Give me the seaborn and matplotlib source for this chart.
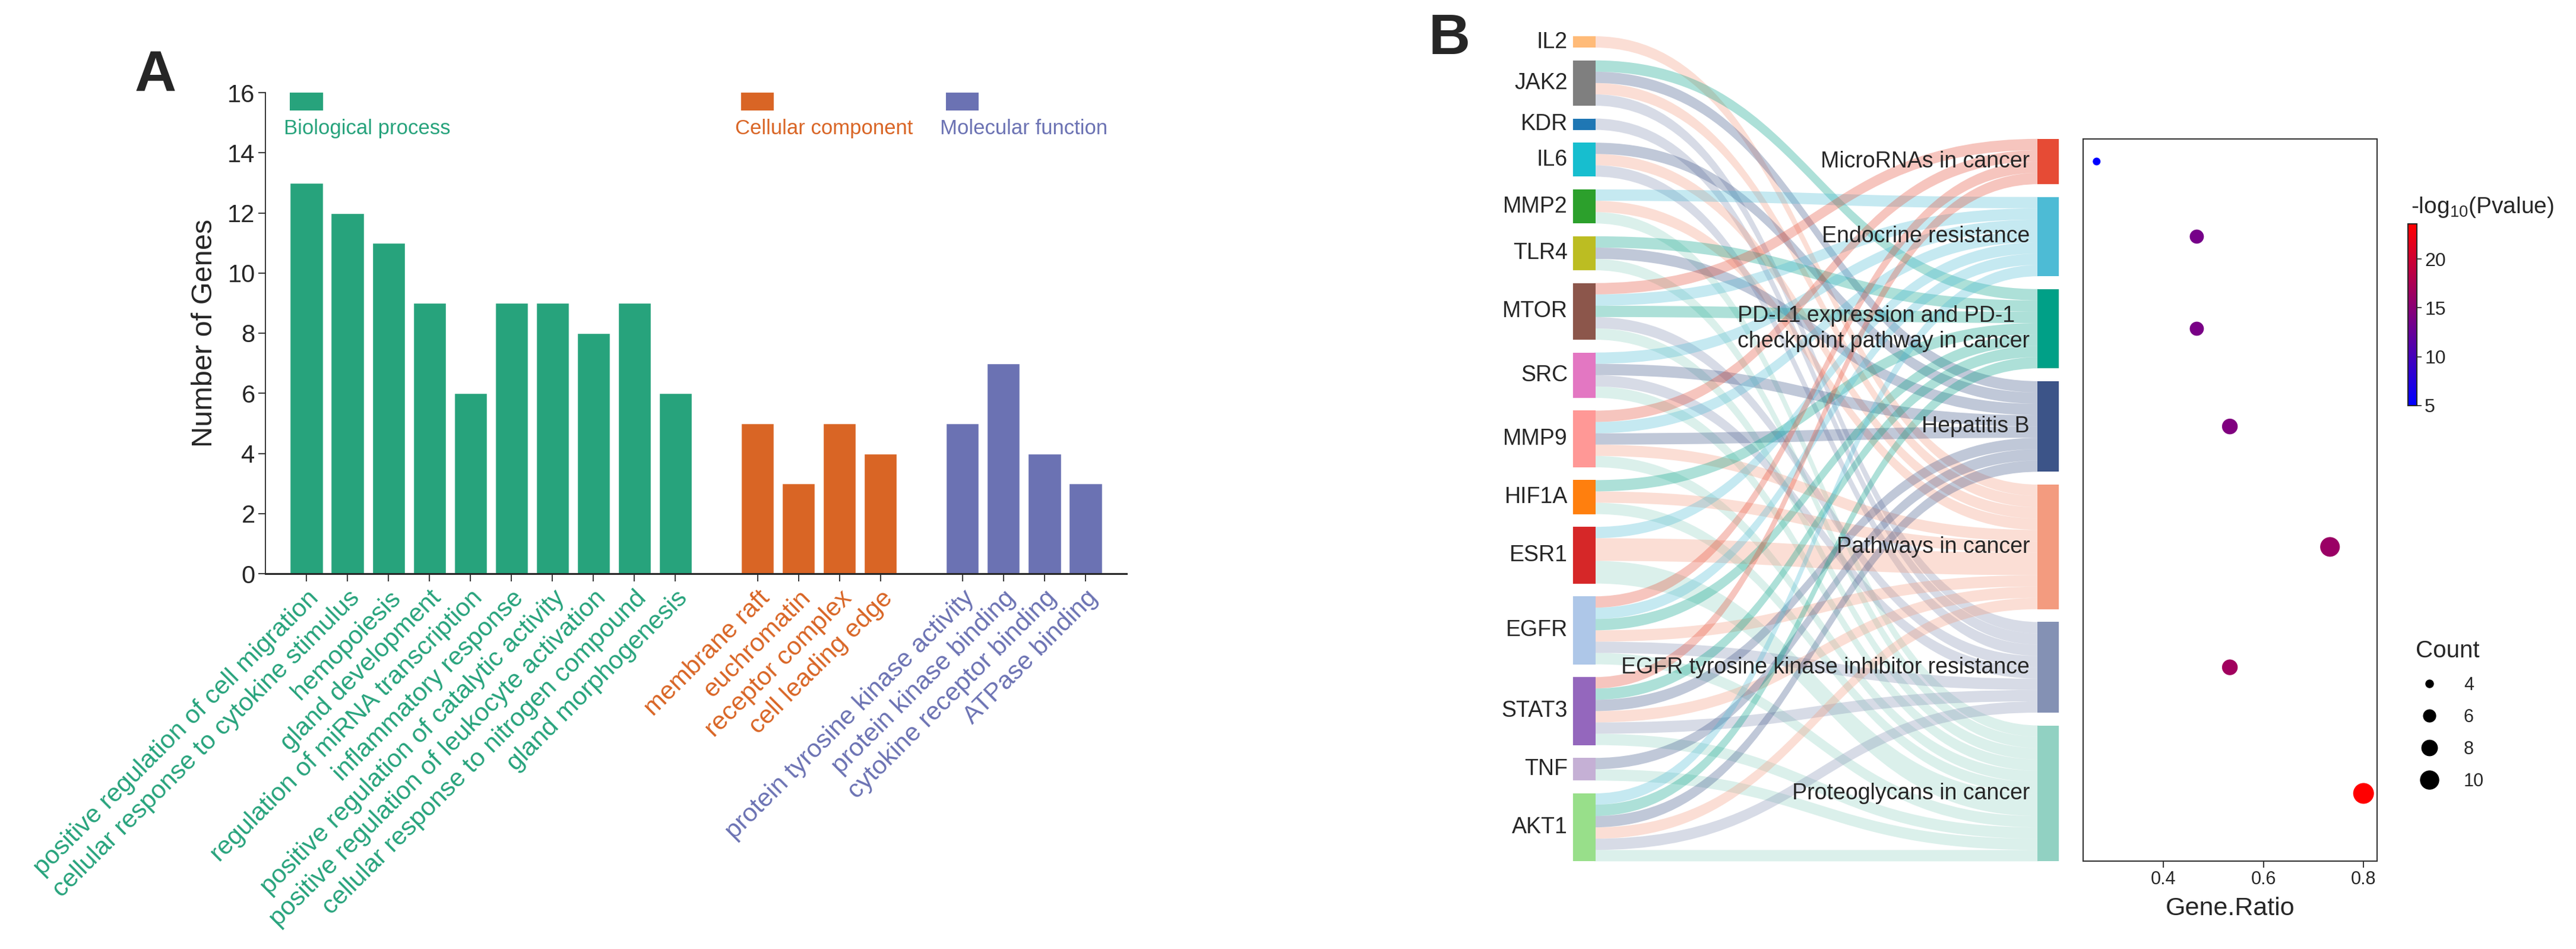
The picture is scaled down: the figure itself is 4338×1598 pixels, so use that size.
import numpy as np
import pandas as pd
import matplotlib
matplotlib.use('Agg')
import matplotlib.pyplot as plt
import seaborn as sns
from matplotlib.path import Path
from matplotlib.patches import PathPatch, Rectangle
from matplotlib.colors import LinearSegmentedColormap, Normalize
from matplotlib.cm import ScalarMappable
from matplotlib.lines import Line2D

# ---------------- panel A: GO enrichment counts ----------------
go_groups = ['Biological process', 'Cellular component', 'Molecular function']
go_colors = ['#27A37C', '#D96525', '#6B72B3']
bp_terms = ['positive regulation of cell migration', 'cellular response to cytokine stimulus',
            'hemopoiesis', 'gland development', 'regulation of miRNA transcription',
            'inflammatory response', 'positive regulation of catalytic activity',
            'positive regulation of leukocyte activation', 'cellular response to nitrogen compound',
            'gland morphogenesis']
bp_counts = [13, 12, 11, 9, 6, 9, 9, 8, 9, 6]
cc_terms = ['membrane raft', 'euchromatin', 'receptor complex', 'cell leading edge']
cc_counts = [5, 3, 5, 4]
mf_terms = ['protein tyrosine kinase activity', 'protein kinase binding',
            'cytokine receptor binding', 'ATPase binding']
mf_counts = [5, 7, 4, 3]

# ---------------- panel B: gene -> KEGG pathway sankey ----------------
genes = ['IL2', 'JAK2', 'KDR', 'IL6', 'MMP2', 'TLR4', 'MTOR', 'SRC', 'MMP9',
         'HIF1A', 'ESR1', 'EGFR', 'STAT3', 'TNF', 'AKT1']
gene_colors = ['#FFBB78', '#7F7F7F', '#1F77B4', '#17BECF', '#2CA02C', '#BCBD22', '#8C564B',
               '#E377C2', '#FF9896', '#FF7F0E', '#D62728', '#AEC7E8', '#9467BD', '#C5B0D5', '#98DF8A']
pathways = ['MicroRNAs in cancer', 'Endocrine resistance',
            'PD-L1 expression and PD-1\ncheckpoint pathway in cancer', 'Hepatitis B',
            'Pathways in cancer', 'EGFR tyrosine kinase inhibitor resistance',
            'Proteoglycans in cancer']
pathway_colors = ['#E64B35', '#4DBBD5', '#00A087', '#3C5488', '#F39B7F', '#8491B4', '#91D1C2']

link_source = ['IL2',
               'JAK2', 'JAK2', 'JAK2', 'JAK2',
               'KDR',
               'IL6', 'IL6', 'IL6',
               'MMP2', 'MMP2', 'MMP2',
               'TLR4', 'TLR4', 'TLR4',
               'MTOR', 'MTOR', 'MTOR', 'MTOR', 'MTOR',
               'SRC', 'SRC', 'SRC', 'SRC',
               'MMP9', 'MMP9', 'MMP9', 'MMP9', 'MMP9',
               'HIF1A', 'HIF1A', 'HIF1A',
               'ESR1', 'ESR1', 'ESR1',
               'EGFR', 'EGFR', 'EGFR', 'EGFR', 'EGFR', 'EGFR',
               'STAT3', 'STAT3', 'STAT3', 'STAT3', 'STAT3', 'STAT3',
               'TNF', 'TNF',
               'AKT1', 'AKT1', 'AKT1', 'AKT1', 'AKT1', 'AKT1']
link_target = [4,
               2, 3, 4, 5,
               5,
               3, 4, 5,
               1, 4, 6,
               2, 3, 6,
               0, 1, 2, 5, 6,
               1, 3, 5, 6,
               0, 1, 3, 4, 6,
               2, 4, 6,
               1, 4, 6,
               0, 1, 2, 4, 5, 6,
               0, 2, 3, 4, 5, 6,
               3, 6,
               1, 2, 3, 4, 5, 6]
link_weight = [1,
               1, 1, 1, 1,
               1,
               1, 1, 1,
               1, 1, 1,
               1, 1, 1,
               1, 1, 1, 1, 1,
               1, 1, 1, 1,
               1, 1, 1, 1, 1,
               1, 1, 1,
               1, 2, 2,
               1, 1, 1, 1, 1, 1,
               1, 1, 1, 1, 1, 1,
               1, 1,
               1, 1, 1, 1, 1, 1]

# ---------------- panel B: dot plot ----------------
pathway_count = [4, 7, 7, 8, 11, 8, 12]
gene_ratio = [0.267, 0.467, 0.467, 0.533, 0.733, 0.533, 0.800]
neg_log10_p = [5.0, 13.6, 13.8, 14.3, 16.2, 16.7, 23.6]

sns.set_style('white')
plt.rcParams['font.family'] = ['Liberation Sans', 'DejaVu Sans']
plt.rcParams['mathtext.fontset'] = 'custom'
plt.rcParams['mathtext.rm'] = 'Liberation Sans'
plt.rcParams['mathtext.default'] = 'regular'

W, H = 4338, 1598
fig = plt.figure(figsize=(W / 100, H / 100), dpi=100)

# ================= panel A =================
rows = []
pos = 0
first_pos = []
for grp, terms, counts in zip(go_groups, [bp_terms, cc_terms, mf_terms], [bp_counts, cc_counts, mf_counts]):
    first_pos.append(pos)
    for t, c in zip(terms, counts):
        rows.append({'term': t, 'count': c, 'group': grp, 'pos': pos})
        pos += 1
    pos += 1  # empty slot between groups
df_go = pd.DataFrame(rows)

axA = fig.add_axes([447 / W, (H - 966) / H, 1450 / W, 810 / H])
sns.barplot(data=df_go, x='pos', y='count', hue='group', palette=dict(zip(go_groups, go_colors)),
            native_scale=True, width=0.8, dodge=False, saturation=1, legend=False, ax=axA)
axA.set_xlim(-1, 20)
axA.set_ylim(0, 16)
axA.set_yticks(range(0, 17, 2))
axA.set_xticks(df_go['pos'])
axA.set_xticklabels(df_go['term'], rotation=45, ha='right', va='top', rotation_mode='anchor')
col_map = dict(zip(go_groups, go_colors))
for lab, grp in zip(axA.get_xticklabels(), df_go['group']):
    lab.set_color(col_map[grp])
axA.tick_params(axis='x', labelsize=31, length=9, width=1.3, direction='out', pad=6, bottom=True)
axA.tick_params(axis='y', labelsize=30, length=9, width=1.3, direction='out', left=True)
axA.set_xlabel('')
axA.set_ylabel('Number of Genes', fontsize=35, labelpad=12)
sns.despine(ax=axA)
axA.spines['left'].set_linewidth(1.3)
axA.spines['bottom'].set_linewidth(2.2)

for p0, grp, colr in zip(first_pos, go_groups, go_colors):
    axA.add_patch(Rectangle((p0 - 0.4, 15.4), 0.8, 0.6, color=colr, lw=0, clip_on=False))
    axA.text(p0 - 0.55, 14.8, grp, color=colr, fontsize=25, ha='left', va='center')

fig.text(227 / W, 1 - 153 / H, 'A', fontsize=70, fontweight='bold', ha='left', va='baseline')
fig.text(2405 / W, 1 - 91 / H, 'B', fontsize=70, fontweight='bold', ha='left', va='baseline')

# ================= panel B: sankey =================
axS = fig.add_axes([0, 0, 1, 1])
axS.set_xlim(0, W)
axS.set_ylim(H, 0)
axS.axis('off')

unit, gap = 19.07, 21.6
left_x0, left_x1 = 2649, 2687
right_x0, right_x1 = 3431, 3467
left_top = 61

gene_w = {g: 0 for g in genes}
path_w = [0] * len(pathways)
for s, t, w in zip(link_source, link_target, link_weight):
    gene_w[s] += w
    path_w[t] += w
total = sum(path_w)
left_total = total * unit + (len(genes) - 1) * gap
right_total = total * unit + (len(pathways) - 1) * gap
right_top = left_top + left_total - right_total

gene_y = {}
y = left_top
for g in genes:
    gene_y[g] = y
    y += gene_w[g] * unit + gap
path_y = []
y = right_top
for k in range(len(pathways)):
    path_y.append(y)
    y += path_w[k] * unit + gap

g_off = {g: gene_y[g] for g in genes}
p_off = list(path_y)
xm = (left_x1 + right_x0) / 2
for s, t, w in zip(link_source, link_target, link_weight):
    h = w * unit
    ys0, yt0 = g_off[s], p_off[t]
    verts = [(left_x1 - 2, ys0), (xm, ys0), (xm, yt0), (right_x0 + 2, yt0),
             (right_x0 + 2, yt0 + h), (xm, yt0 + h), (xm, ys0 + h), (left_x1 - 2, ys0 + h),
             (left_x1 - 2, ys0)]
    codes = [Path.MOVETO, Path.CURVE4, Path.CURVE4, Path.CURVE4,
             Path.LINETO, Path.CURVE4, Path.CURVE4, Path.CURVE4, Path.CLOSEPOLY]
    axS.add_patch(PathPatch(Path(verts, codes), facecolor=pathway_colors[t], alpha=0.32, lw=0))
    g_off[s] += h
    p_off[t] += h

for g, c in zip(genes, gene_colors):
    axS.add_patch(Rectangle((left_x0, gene_y[g]), left_x1 - left_x0, gene_w[g] * unit, color=c, lw=0))
    axS.text(left_x0 - 9, gene_y[g] + gene_w[g] * unit / 2, g, fontsize=27, ha='right', va='center')
for k, (name, c) in enumerate(zip(pathways, pathway_colors)):
    axS.add_patch(Rectangle((right_x0, path_y[k]), right_x1 - right_x0, path_w[k] * unit, color=c, lw=0))
    axS.text(right_x0 - 13, path_y[k] + path_w[k] * unit / 2, name, fontsize=27,
             ha='right', va='center', multialignment='left', linespacing=1.25)

# ================= panel B: dot plot =================
centers = [path_y[k] + path_w[k] * unit / 2 for k in range(len(pathways))]
df_dot = pd.DataFrame({'pathway': pathways, 'ratio': gene_ratio, 'count': pathway_count,
                       'logp': neg_log10_p, 'ypos': centers})
bot = path_y[-1] + path_w[-1] * unit
axD = fig.add_axes([3508 / W, (H - bot) / H, 495 / W, (bot - right_top) / H])
cmap = LinearSegmentedColormap.from_list('br', ['#0000FF', '#FF0000'])
vmin, vmax = min(neg_log10_p), max(neg_log10_p)
s_min, s_max = 88, 635
sns.scatterplot(data=df_dot, x='ratio', y='ypos', hue='logp', size='count', palette=cmap,
                hue_norm=(vmin, vmax), sizes=(s_min, s_max), size_norm=(4, 12),
                linewidth=0, legend=False, ax=axD)
axD.set_ylim(bot, right_top)
axD.set_xlim(0.24, 0.827)
axD.set_yticks([])
axD.set_xticks([0.4, 0.6, 0.8])
axD.set_xticklabels(['0.4', '0.6', '0.8'])
axD.tick_params(axis='x', labelsize=22, length=8, width=1.3, direction='out', bottom=True)
axD.set_xlabel('Gene.Ratio', fontsize=31, labelpad=10)
axD.set_ylabel('')
for sp in axD.spines.values():
    sp.set_visible(True)
    sp.set_linewidth(1.5)
    sp.set_color('#333333')

cax = fig.add_axes([4055 / W, (H - 683) / H, 15 / W, 306 / H])
cb = fig.colorbar(ScalarMappable(norm=Normalize(vmin, vmax), cmap=cmap), cax=cax, ticks=[5, 10, 15, 20])
cb.outline.set_linewidth(1.5)
cax.tick_params(labelsize=23, length=6, width=1.2)
fig.text(4060 / W, 1 - 349 / H, r'-log$_{10}$(Pvalue)', fontsize=28, ha='left', va='center')

legend_counts = [4, 6, 8, 10]
handles = []
for c in legend_counts:
    s = s_min + (c - 4) / 8 * (s_max - s_min)
    handles.append(Line2D([], [], marker='o', ls='', color='black', markersize=np.sqrt(s)))
fig.legend(handles, [str(c) for c in legend_counts], title='Count', loc='upper left',
           bbox_to_anchor=(4045 / W, 1 - 1062 / H), frameon=False, fontsize=22, title_fontsize=29,
           labelspacing=0.78, handletextpad=0.9, borderpad=0)

fig.savefig('out.png', dpi=100)
